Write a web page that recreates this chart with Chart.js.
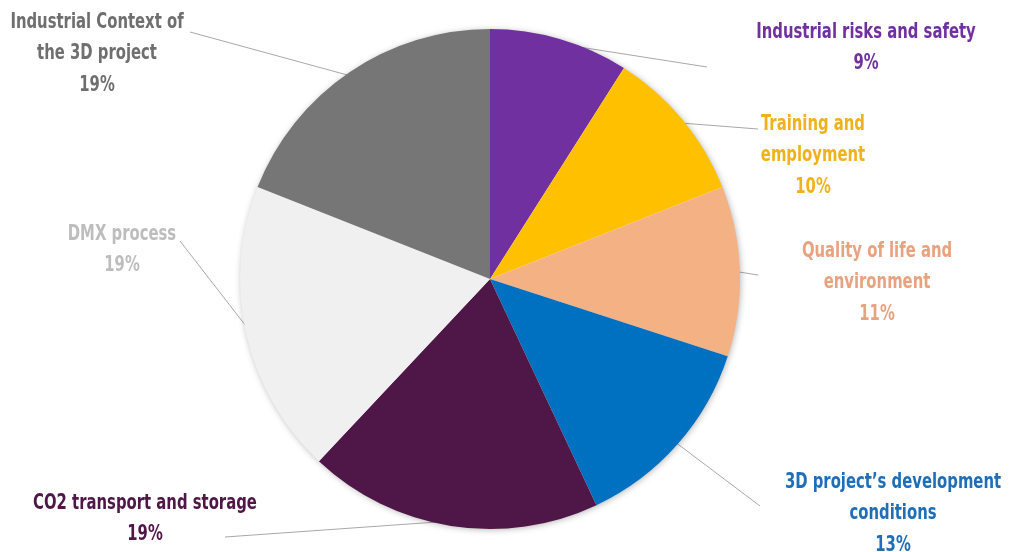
<!DOCTYPE html>
<html>
<head>
<meta charset="utf-8">
<script src="https://cdn.jsdelivr.net/npm/chart.js@4"></script>
<style>
  html, body { margin: 0; padding: 0; background: #fff; }
  #wrap { width: 1011px; height: 552px; }
</style>
</head>
<body>
<div id="wrap"><canvas id="pieChart" width="1011" height="552"></canvas></div>
<script>
// data
const categories = [
    'Industrial risks and safety',
    'Training and employment',
    'Quality of life and environment',
    "3D project\u2019s development conditions",
    'CO2 transport and storage',
    'DMX process',
    'Industrial Context of the 3D project'
];
const values = [9, 10, 11, 13, 19, 19, 19];

// how each label is broken into lines
const labelLines = [
    ['Industrial risks and safety'],
    ['Training and', 'employment'],
    ['Quality of life and', 'environment'],
    ["3D project\u2019s development", 'conditions'],
    ['CO2 transport and storage'],
    ['DMX process'],
    ['Industrial Context of', 'the 3D project']
];

// styling / layout
const sliceColors = ['#7030A0', '#FFC000', '#F4B183', '#0070C0', '#4F1747', '#F0F0F0', '#767676'];
const textColors = ['#7030A0', '#F0B21C', '#E9A27E', '#1F6EB8', '#4F1747', '#BDBDBD', '#6F6F6F'];
const labelPos = [[866, 32], [813, 124], [877, 251], [893, 482], [145, 503], [122, 234], [97, 22]];
const lineEnds = [[707, 67], [758, 129], [758, 275], [760, 506], [225, 537], [180, 241], [190, 32]];
const lineHeight = 31.5;

const shadowAndLines = {
    id: 'pieShadow',
    beforeDatasetsDraw(chart) {
        const arcs = chart.getDatasetMeta(0).data;
        if (!arcs.length) return;
        const ctx = chart.ctx;
        // leader lines, under the pie
        arcs.forEach((arc, i) => {
            const mid = (arc.startAngle + arc.endAngle) / 2;
            ctx.save();
            ctx.strokeStyle = '#A8A8A8';
            ctx.lineWidth = 1;
            ctx.beginPath();
            ctx.moveTo(arc.x + Math.cos(mid) * (arc.outerRadius - 5), arc.y + Math.sin(mid) * (arc.outerRadius - 5));
            ctx.lineTo(lineEnds[i][0], lineEnds[i][1]);
            ctx.stroke();
            ctx.restore();
        });
        const a = arcs[0];
        ctx.save();
        ctx.shadowColor = 'rgba(0,0,0,0.35)';
        ctx.shadowBlur = 7;
        ctx.shadowOffsetX = 1;
        ctx.shadowOffsetY = 1;
        ctx.fillStyle = '#fff';
        ctx.beginPath();
        ctx.arc(a.x, a.y, a.outerRadius - 1, 0, Math.PI * 2);
        ctx.fill();
        ctx.restore();
    }
};

const outsideLabels = {
    id: 'outsideLabels',
    afterDatasetsDraw(chart) {
        const ctx = chart.ctx;
        const total = values.reduce((a, b) => a + b, 0);
        chart.getDatasetMeta(0).data.forEach((arc, i) => {
            const lines = labelLines[i].concat([Math.round(values[i] / total * 100) + '%']);
            ctx.save();
            ctx.fillStyle = textColors[i];
            ctx.font = "bold 22px 'Liberation Sans Narrow', 'DejaVu Sans Condensed', sans-serif";
            ctx.textAlign = 'center';
            ctx.textBaseline = 'middle';
            lines.forEach((t, k) => {
                ctx.save();
                ctx.translate(labelPos[i][0], labelPos[i][1] + k * lineHeight);
                ctx.scale(0.75, 1);
                ctx.fillText(t, 0, 0);
                ctx.restore();
            });
            ctx.restore();
        });
    }
};

new Chart(document.getElementById('pieChart').getContext('2d'), {
    type: 'pie',
    data: {
        labels: categories,
        datasets: [{
            data: values,
            backgroundColor: sliceColors,
            borderWidth: 0
        }]
    },
    options: {
        responsive: false,
        animation: false,
        layout: { padding: { left: 240, right: 271, top: 29, bottom: 23 } },
        plugins: {
            legend: { display: false },
            tooltip: { enabled: false }
        }
    },
    plugins: [shadowAndLines, outsideLabels]
});
</script>
</body>
</html>
